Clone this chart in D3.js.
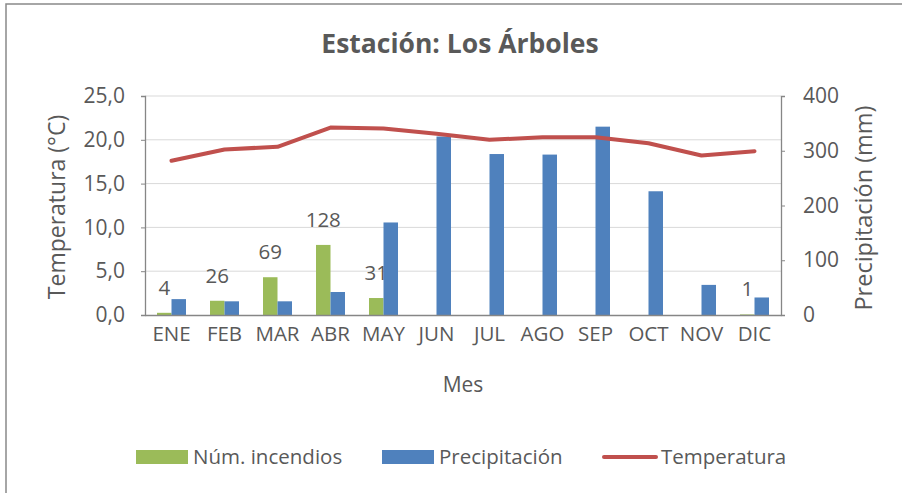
<!DOCTYPE html>
<meta charset="utf-8">
<style>
body {
  margin: 0;
  background: #fff;
}
svg text {
  font-family: "Open Sans", sans-serif;
  fill: #595959;
}
.grid line {
  stroke: #d9d9d9;
}
.axis path, .axis line {
  stroke: #868686;
}
</style>
<body>
<svg width="902" height="493"></svg>
<script src="https://cdnjs.cloudflare.com/ajax/libs/d3/7.8.5/d3.min.js"></script>
<script>
// data
var months = ["ENE", "FEB", "MAR", "ABR", "MAY", "JUN", "JUL", "AGO", "SEP", "OCT", "NOV", "DIC"];
var fires = [4, 26, 69, 128, 31, null, null, null, null, null, null, 1];
var precip = [29, 25, 25, 42, 169, 326, 294, 293, 344, 226, 55, 32];
var temp = [17.6, 18.9, 19.2, 21.4, 21.3, 20.7, 20.0, 20.3, 20.3, 19.6, 18.2, 18.7];
var tempTicks = [0, 5, 10, 15, 20, 25];
var precipTicks = [0, 100, 200, 300, 400];

var svg = d3.select("svg"),
    margin = {top: 96, right: 121, bottom: 178, left: 145},
    width = +svg.attr("width") - margin.left - margin.right,
    height = +svg.attr("height") - margin.top - margin.bottom;

var es = d3.formatLocale({decimal: ",", thousands: ".", grouping: [3], currency: ["", "€"]});
var fmt1 = es.format(".1f");

// outer frame (right and bottom edges fall outside the picture)
svg.append("rect")
    .attr("x", 6).attr("y", 4)
    .attr("width", 920).attr("height", 520)
    .attr("fill", "none")
    .attr("stroke", "#898989")
    .attr("stroke-width", 1.5);

svg.append("text")
    .attr("x", 460).attr("y", 53)
    .attr("text-anchor", "middle")
    .style("font-size", "26.5px")
    .style("font-weight", "bold")
    .text("Estación: Los Árboles");

var x0 = d3.scaleBand().domain(months).range([0, width]).padding(0);
var x1 = d3.scaleBand().domain(["fires", "precip"]).range([12, x0.bandwidth() - 12]);
var yL = d3.scaleLinear().domain([0, 25]).range([height, 0]);
var yR = d3.scaleLinear().domain([0, 400]).range([height, 0]);

var g = svg.append("g")
    .attr("transform", "translate(" + margin.left + "," + margin.top + ")");

// gridlines
g.append("g")
    .attr("class", "grid")
    .selectAll("line")
    .data(tempTicks.slice(1))
    .enter().append("line")
      .attr("x1", 0).attr("x2", width)
      .attr("y1", function(d) { return yL(d); })
      .attr("y2", function(d) { return yL(d); });

var rows = months.map(function(m, i) {
  return {month: m, fires: fires[i], precip: precip[i], temp: temp[i]};
});

// bars (both on secondary axis)
g.selectAll(".bar-fires")
    .data(rows.filter(function(d) { return d.fires != null; }))
    .enter().append("rect")
      .attr("class", "bar-fires")
      .attr("x", function(d) { return x0(d.month) + x1("fires"); })
      .attr("y", function(d) { return yR(d.fires); })
      .attr("width", x1.bandwidth())
      .attr("height", function(d) { return height - yR(d.fires); })
      .attr("fill", "#9bbb59");

g.selectAll(".bar-precip")
    .data(rows)
    .enter().append("rect")
      .attr("class", "bar-precip")
      .attr("x", function(d) { return x0(d.month) + x1("precip"); })
      .attr("y", function(d) { return yR(d.precip); })
      .attr("width", x1.bandwidth())
      .attr("height", function(d) { return height - yR(d.precip); })
      .attr("fill", "#4f81bd");

// fire labels
g.selectAll(".lbl")
    .data(rows.filter(function(d) { return d.fires != null; }))
    .enter().append("text")
      .attr("class", "lbl")
      .attr("x", function(d) { return x0(d.month) + x1("fires") + x1.bandwidth() / 2; })
      .attr("y", function(d) { return yR(d.fires) - 18; })
      .attr("text-anchor", "middle")
      .style("font-size", "20.5px")
      .text(function(d) { return d.fires; });

// temperature line
var line = d3.line()
    .x(function(d) { return x0(d.month) + x0.bandwidth() / 2; })
    .y(function(d) { return yL(d.temp); });

g.append("path")
    .datum(rows)
    .attr("d", line)
    .attr("fill", "none")
    .attr("stroke", "#c0504d")
    .attr("stroke-width", 4)
    .attr("stroke-linecap", "round")
    .attr("stroke-linejoin", "round");

// axes
var axL = g.append("g")
    .attr("class", "axis")
    .call(d3.axisLeft(yL).tickValues(tempTicks).tickFormat(fmt1).tickSize(4).tickPadding(16));
var axR = g.append("g")
    .attr("class", "axis")
    .attr("transform", "translate(" + width + ",0)")
    .call(d3.axisRight(yR).tickValues(precipTicks).tickSize(4).tickPadding(18));
var axB = g.append("g")
    .attr("class", "axis")
    .attr("transform", "translate(0," + height + ")")
    .call(d3.axisBottom(x0).tickSize(0).tickPadding(26));

[axL, axR, axB].forEach(function(a) {
  a.select(".domain").attr("stroke-width", 1.3);
  a.selectAll("text")
      .style("font-size", "21px")
      .attr("fill", "#595959");
});
axB.selectAll("text").style("font-size", "20.5px").attr("dy", 0);

// axis titles
svg.append("text")
    .attr("transform", "translate(65,207) rotate(-90)")
    .attr("text-anchor", "middle")
    .style("font-size", "23px")
    .text("Temperatura (°C)");

svg.append("text")
    .attr("transform", "translate(872,208) rotate(-90)")
    .attr("text-anchor", "middle")
    .style("font-size", "23.5px")
    .text("Precipitación (mm)");

svg.append("text")
    .attr("x", 463).attr("y", 392)
    .attr("text-anchor", "middle")
    .style("font-size", "21px")
    .text("Mes");

// legend
var legend = [
  {name: "Núm. incendios", type: "rect", color: "#9bbb59", x: 136},
  {name: "Precipitación", type: "rect", color: "#4f81bd", x: 382},
  {name: "Temperatura", type: "line", color: "#c0504d", x: 603}
];

var lg = svg.append("g").selectAll("g")
    .data(legend)
    .enter().append("g")
      .attr("transform", function(d) { return "translate(" + d.x + ",457)"; });

lg.filter(function(d) { return d.type == "rect"; })
    .append("rect")
      .attr("x", 0).attr("y", -7)
      .attr("width", 52).attr("height", 14)
      .attr("fill", function(d) { return d.color; });

lg.filter(function(d) { return d.type == "line"; })
    .append("line")
      .attr("x1", 1).attr("x2", 53)
      .attr("y1", 0).attr("y2", 0)
      .attr("stroke", function(d) { return d.color; })
      .attr("stroke-width", 4)
      .attr("stroke-linecap", "round");

lg.append("text")
    .attr("x", function(d) { return d.type == "line" ? 58 : 57; })
    .attr("y", 7)
    .style("font-size", "20.5px")
    .text(function(d) { return d.name; });
</script>
</body>
